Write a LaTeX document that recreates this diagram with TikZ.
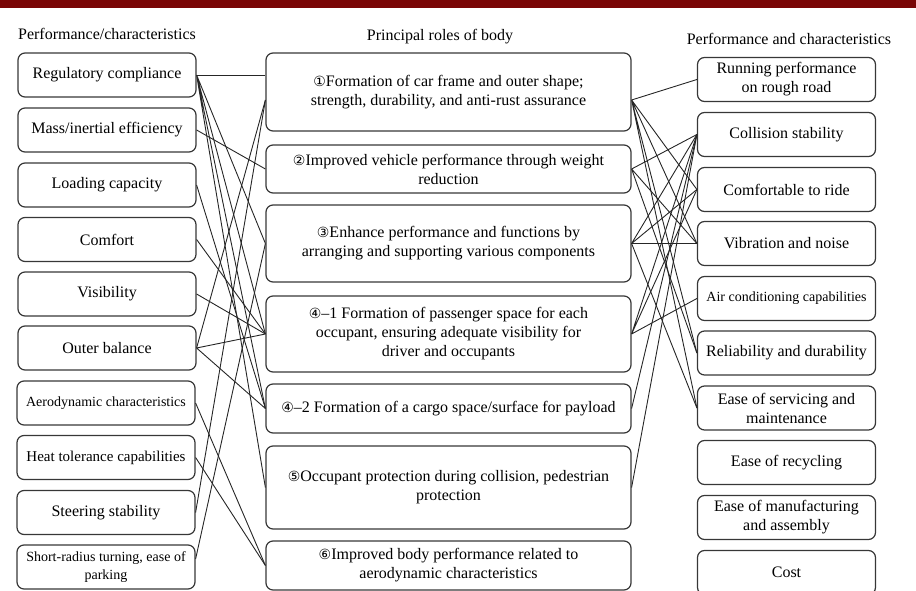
\documentclass[tikz,border=0pt]{standalone}
\usepackage{fontspec}
\setmainfont{Liberation Serif}
\newfontfamily\circfont{DejaVu Sans}
\usetikzlibrary{calc}

\definecolor{barred}{RGB}{122,6,6}
\definecolor{boxgray}{RGB}{55,55,55}

\newcommand{\cn}[1]{{\circfont\fontsize{14}{14}\selectfont #1}}

\tikzset{
  perf/.style={draw=boxgray, line width=1.2pt, rounded corners=7pt,
    minimum width=178pt, minimum height=44pt, align=center, inner sep=1pt,
    font=\fontsize{16}{19}\selectfont},
  narrow/.style={font=\fontsize{14}{18}\selectfont},
  role/.style={perf, minimum width=365pt},
  head/.style={font=\fontsize{16}{19}\selectfont},
  link/.style={line width=0.9pt, black!85}
}

\begin{document}
\begin{tikzpicture}[x=1pt, y=-1pt]
    \useasboundingbox (0,0) rectangle (916,591);
    \clip (0,0) rectangle (916,591);

    % Top bar
    \fill[barred] (0,0) rectangle (916,8);

    % Column titles
    \node[head] (tleft) at (107,34) {Performance/characteristics};
    \node[head] (tmid) at (440,37) {Principal roles of body};
    \node[head] (tright) at (789,39) {Performance and characteristics};

    % Left column
    \node[perf] (l1) at (107,75) {Regulatory compliance};
    \node[perf] (l2) at (107,130) {Mass/inertial efficiency};
    \node[perf] (l3) at (107,185) {Loading capacity};
    \node[perf] (l4) at (107,239.5) {Comfort};
    \node[perf] (l5) at (107,294) {Visibility};
    \node[perf] (l6) at (107,348) {Outer balance};
    \node[perf, narrow] (l7) at (106,403) {Aerodynamic characteristics};
    \node[perf, font=\fontsize{15}{18}\selectfont] (l8) at (106,457.5) {Heat tolerance capabilities};
    \node[perf] (l9) at (106,512.5) {Steering stability};
    \node[perf, narrow] (l10) at (106,567) {Short-radius turning, ease of\\parking};

    % Middle column
    \node[role, minimum height=78pt] (m1) at (448.5,92) {\cn{①}Formation of car frame and outer shape;\\strength, durability, and anti-rust assurance};
    \node[role, minimum height=48pt] (m2) at (448.5,169) {\cn{②}Improved vehicle performance through weight\\reduction};
    \node[role, minimum height=77pt] (m3) at (448.5,243.5) {\cn{③}Enhance performance and functions by\\arranging and supporting various components};
    \node[role, minimum height=76pt] (m41) at (448.5,334) {\cn{④}–1 Formation of passenger space for each\\occupant, ensuring adequate visibility for\\driver and occupants};
    \node[role, minimum height=49pt] (m42) at (448.5,408.5) {\cn{④}–2 Formation of a cargo space/surface for payload};
    \node[role, minimum height=83pt] (m5) at (448.5,487.5) {\cn{⑤}Occupant protection during collision, pedestrian\\protection};
    \node[role, minimum height=49pt] (m6) at (448.5,565.5) {\cn{⑥}Improved body performance related to\\aerodynamic characteristics};

    % Right column
    \node[perf] (r1) at (786.5,79.5) {Running performance\\on rough road};
    \node[perf] (r2) at (786.5,134.5) {Collision stability};
    \node[perf] (r3) at (786.5,189.5) {Comfortable to ride};
    \node[perf] (r4) at (786.5,243.5) {Vibration and noise};
    \node[perf, narrow] (r5) at (786.5,298.5) {Air conditioning capabilities};
    \node[perf] (r6) at (786.5,353) {Reliability and durability};
    \node[perf] (r7) at (786.5,408) {Ease of servicing and\\maintenance};
    \node[perf] (r8) at (786.5,462.5) {Ease of recycling};
    \node[perf] (r9) at (786.5,517.5) {Ease of manufacturing\\and assembly};
    \node[perf] (r10) at (786.5,572.5) {Cost};

    % Ends on box 1 a little below its middle
    \coordinate (m1in) at ([yshift=-8pt]m1.west);
    \coordinate (m1out) at ([yshift=-8pt]m1.east);

    % Characteristics to roles
    \draw[link] (l1.east) -- (l1.east -| m1.west);
    \draw[link] (l1.east) -- (m3.west) (l1.east) -- (m41.west) (l1.east) -- (m42.west) (l1.east) -- (m5.west);
    \draw[link] (l2.east) -- (m2.west);
    \draw[link] (l3.east) -- (m42.west);
    \draw[link] (l4.east) -- (m41.west);
    \draw[link] (l5.east) -- (m41.west);
    \draw[link] (l6.east) -- (m1in) (l6.east) -- (m41.west) (l6.east) -- (m42.west);
    \draw[link] (l7.east) -- (m6.west);
    \draw[link] (l8.east) -- (m6.west);
    \draw[link] (l9.east) -- (m1in);
    \draw[link] ([yshift=8pt]l10.east) -- (m3.west);

    % Roles to performance
    \draw[link] (m1out) -- (r1.west) (m1out) -- (r3.west) (m1out) -- (r4.west) (m1out) -- (r6.west) (m1out) -- (r7.west);
    \draw[link] (m2.east) -- (r2.west) (m2.east) -- (r4.west) (m2.east) -- (r6.west);
    \draw[link] (m3.east) -- (r2.west) (m3.east) -- (r3.west) (m3.east) -- (r4.west) (m3.east) -- (r7.west);
    \draw[link] (m41.east) -- (r5.west) (m41.east) -- (r2.west) (m41.east) -- (r3.west);
    \draw[link] (m42.east) -- (r2.west);
    \draw[link] (m5.east) -- (r2.west);
\end{tikzpicture}
\end{document}
